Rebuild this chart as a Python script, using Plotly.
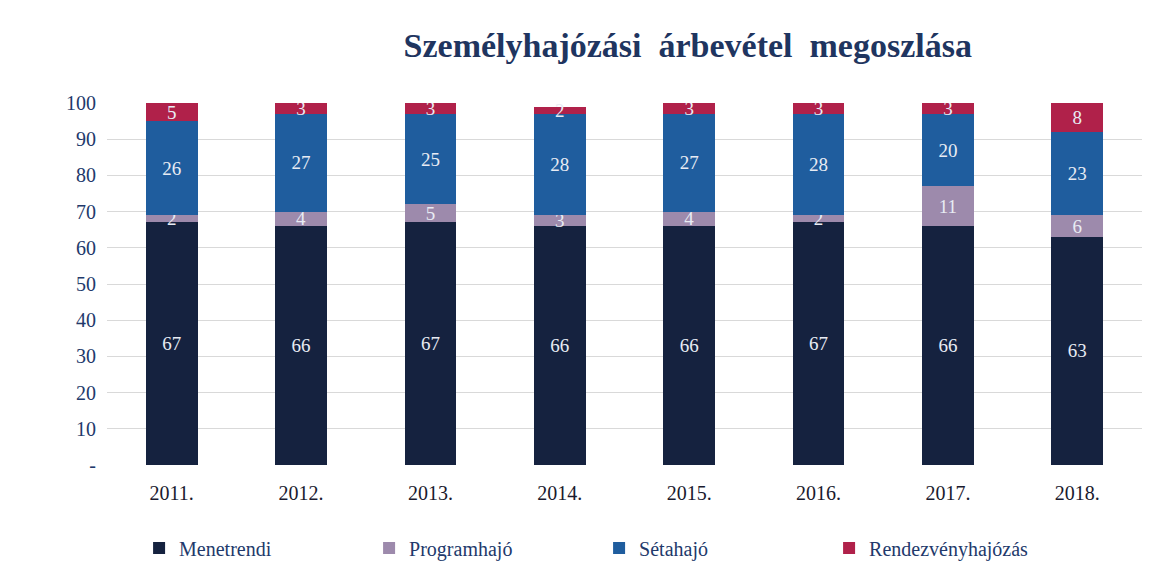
import plotly.graph_objects as go

years = ["2011.", "2012.", "2013.", "2014.", "2015.", "2016.", "2017.", "2018."]
menetrendi = [67, 66, 67, 66, 66, 67, 66, 63]
programhajo = [2, 4, 5, 3, 4, 2, 11, 6]
setahajo = [26, 27, 25, 28, 27, 28, 20, 23]
rendezveny = [5, 3, 3, 2, 3, 3, 3, 8]

series = [
    ("Menetrendi", menetrendi, "#15223f"),
    ("Programhajó", programhajo, "#9d8aac"),
    ("Sétahajó", setahajo, "#1f5d9e"),
    ("Rendezvényhajózás", rendezveny, "#b0214a"),
]

navy = "#22396b"
font_family = "Liberation Serif, Times New Roman, serif"

fig = go.Figure()
for name, vals, color in series:
    fig.add_trace(go.Bar(
        x=years, y=vals, name=name,
        marker=dict(color=color, line=dict(width=0)),
        text=[str(v) for v in vals],
        textposition="inside",
        insidetextanchor="middle",
        textangle=0,
        textfont=dict(family=font_family, size=19, color="#e8ecf4"),
    ))

fig.update_layout(
    barmode="stack",
    bargap=0.6,
    width=1160, height=571,
    paper_bgcolor="white", plot_bgcolor="white",
    margin=dict(l=99, r=26, t=95, b=114, autoexpand=False),
    title=dict(text="<b>Személyhajózási  árbevétel  megoszlása</b>",
               x=0.586, xanchor="center", y=0.935, yanchor="middle",
               font=dict(family=font_family, size=34, color="#1f3560")),
    uniformtext=dict(minsize=19, mode="show"),
    legend=dict(orientation="h", x=0.031, xanchor="left", y=-0.229, yanchor="middle",
                entrywidth=185, entrywidthmode="pixels",
                font=dict(family=font_family, size=20, color=navy),
                itemwidth=30, traceorder="normal"),
    xaxis=dict(tickfont=dict(family=font_family, size=20, color="#1a1a2e"),
               showline=False, ticks="", ticklabelstandoff=14),
    yaxis=dict(range=[0, 100], tickvals=list(range(0, 101, 10)),
               ticktext=["-"] + [str(v) for v in range(10, 101, 10)],
               tickfont=dict(family=font_family, size=20, color=navy),
               gridcolor="#d9d9d9", gridwidth=1, zeroline=False,
               showline=False, ticks="", ticklabelstandoff=10),
)

fig.write_html("out.html")
